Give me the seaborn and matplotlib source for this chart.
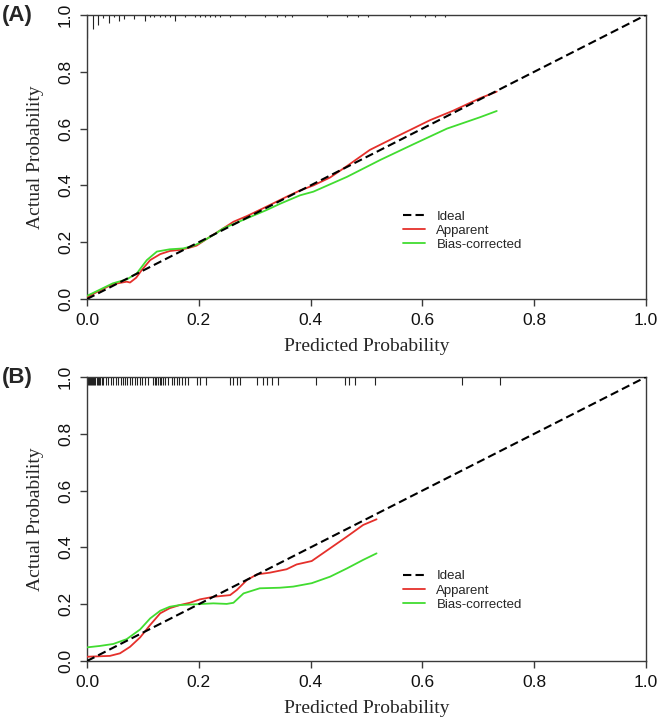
import numpy as np
import pandas as pd
import seaborn as sns
import matplotlib
matplotlib.use("Agg")
import matplotlib.pyplot as plt

# panel A: apparent / bias-corrected calibration curves
a_app_x = [0.0, 0.02, 0.046, 0.071, 0.077, 0.088, 0.098, 0.113, 0.131, 0.148, 0.166, 0.184, 0.196,
           0.22, 0.244, 0.262, 0.286, 0.321, 0.357, 0.381, 0.405, 0.435, 0.465, 0.506, 0.554,
           0.614, 0.655, 0.703, 0.733]
a_app_y = [0.006, 0.027, 0.052, 0.061, 0.058, 0.075, 0.102, 0.137, 0.158, 0.169, 0.173, 0.181, 0.188,
           0.219, 0.249, 0.272, 0.292, 0.325, 0.360, 0.382, 0.400, 0.428, 0.468, 0.525, 0.572,
           0.630, 0.663, 0.707, 0.730]
a_bc_x = [0.0, 0.02, 0.046, 0.071, 0.089, 0.107, 0.125, 0.148, 0.172, 0.190, 0.202, 0.226, 0.244,
          0.286, 0.321, 0.345, 0.381, 0.405, 0.465, 0.525, 0.584, 0.644, 0.703, 0.733]
a_bc_y = [0.011, 0.030, 0.055, 0.069, 0.090, 0.137, 0.167, 0.175, 0.178, 0.187, 0.198, 0.225, 0.249,
          0.284, 0.313, 0.335, 0.365, 0.378, 0.430, 0.490, 0.545, 0.600, 0.640, 0.662]
a_rug_x = [0.0005, 0.011, 0.020, 0.029, 0.040, 0.049, 0.058, 0.067, 0.084, 0.103, 0.113, 0.120,
           0.131, 0.140, 0.148, 0.158, 0.175, 0.193, 0.202, 0.211, 0.220, 0.229, 0.238, 0.256,
           0.283, 0.318, 0.340, 0.354, 0.367, 0.429, 0.465, 0.485, 0.503, 0.578, 0.605, 0.623, 0.640]
a_rug_len = [0.081, 0.049, 0.035, 0.011, 0.028, 0.007, 0.021, 0.014, 0.014, 0.021, 0.007, 0.007,
             0.007, 0.007, 0.007, 0.021, 0.007, 0.007, 0.007, 0.007, 0.007, 0.007, 0.007, 0.007,
             0.007, 0.007, 0.007, 0.007, 0.007, 0.007, 0.007, 0.007, 0.007, 0.007, 0.007, 0.007, 0.007]

# panel B
b_app_x = [0.0, 0.041, 0.059, 0.077, 0.095, 0.113, 0.131, 0.148, 0.166, 0.184, 0.202, 0.226, 0.256,
           0.268, 0.286, 0.304, 0.327, 0.357, 0.375, 0.402, 0.435, 0.465, 0.494, 0.518]
b_app_y = [0.015, 0.018, 0.027, 0.050, 0.083, 0.127, 0.168, 0.186, 0.197, 0.205, 0.217, 0.226, 0.232,
           0.250, 0.285, 0.305, 0.311, 0.323, 0.340, 0.352, 0.397, 0.438, 0.479, 0.499]
b_bc_x = [0.0, 0.023, 0.047, 0.071, 0.095, 0.113, 0.131, 0.148, 0.166, 0.196, 0.226, 0.250, 0.262,
          0.280, 0.309, 0.345, 0.369, 0.402, 0.435, 0.465, 0.494, 0.518]
b_bc_y = [0.048, 0.053, 0.060, 0.077, 0.111, 0.150, 0.177, 0.191, 0.197, 0.200, 0.203, 0.201, 0.205,
          0.238, 0.256, 0.258, 0.262, 0.274, 0.297, 0.326, 0.356, 0.379]
b_rug_x = [0.001, 0.003, 0.005, 0.007, 0.009, 0.011, 0.013, 0.015, 0.017, 0.019, 0.021, 0.023,
           0.027, 0.029, 0.034, 0.038, 0.043, 0.047, 0.052, 0.055, 0.061, 0.064, 0.068, 0.072,
           0.077, 0.080, 0.086, 0.089, 0.095, 0.098, 0.104, 0.109, 0.118, 0.121, 0.124, 0.127,
           0.130, 0.133, 0.136, 0.139, 0.145, 0.152, 0.156, 0.161, 0.165, 0.170, 0.175, 0.181,
           0.197, 0.202, 0.213, 0.256, 0.261, 0.268, 0.274, 0.304, 0.315, 0.322, 0.331, 0.342,
           0.410, 0.462, 0.469, 0.479, 0.515, 0.671, 0.739]
b_rug_len = 0.027

ticks = [0.0, 0.2, 0.4, 0.6, 0.8, 1.0]
tick_labels = ["0.0", "0.2", "0.4", "0.6", "0.8", "1.0"]
labels = ["Ideal", "Apparent", "Bias-corrected"]

RED = "#e5302b"
GREEN = "#41dc30"
AXC = "#3a3a3a"

sns.set_style("ticks")
plt.rcParams["font.family"] = ["Liberation Sans", "DejaVu Sans"]

fig = plt.figure(figsize=(6.61, 7.19), dpi=100)
ax_a = fig.add_axes([87 / 661, 1 - 299 / 719, 559 / 661, 284 / 719])
ax_b = fig.add_axes([87 / 661, 1 - 661 / 719, 559 / 661, 284 / 719])


def draw_panel(ax, app_x, app_y, bc_x, bc_y, rug_x, rug_len, leg_anchor):
    sns.lineplot(x=app_x, y=app_y, ax=ax, color=RED, lw=1.3, sort=False, estimator=None,
                 label=labels[1], zorder=3)
    sns.lineplot(x=bc_x, y=bc_y, ax=ax, color=GREEN, lw=1.3, sort=False, estimator=None,
                 label=labels[2], zorder=3)
    ideal = sns.lineplot(x=[0, 1], y=[0, 1], ax=ax, color="black", lw=1.5, label=labels[0], zorder=4)
    ideal.lines[-1].set_dashes((4, 2))
    # rug of predicted probabilities along the top
    ax.vlines(rug_x, 1 - np.asarray(rug_len), 1, color="#222222", lw=0.8, zorder=2)

    ax.set_xlim(0, 1)
    ax.set_ylim(0, 1)
    ax.set_xticks(ticks)
    ax.set_xticklabels(tick_labels)
    ax.set_yticks(ticks)
    ax.set_yticklabels(tick_labels, rotation=90, va="center")
    ax.tick_params(direction="out", length=5, width=1, color=AXC, labelsize=12.5,
                   labelcolor="#111111", pad=5)
    for sp in ax.spines.values():
        sp.set_color(AXC)
        sp.set_linewidth(1)
    ax.set_xlabel("Predicted Probability", family=["Liberation Serif"], fontsize=14, labelpad=7)
    ax.set_ylabel("Actual Probability", family=["Liberation Serif"], fontsize=14, labelpad=10)

    h, l = ax.get_legend_handles_labels()
    order = [l.index(t) for t in labels]
    ax.legend([h[i] for i in order], [l[i] for i in order], loc="upper left",
              bbox_to_anchor=leg_anchor, frameon=False, fontsize=9.5, handlelength=1.6,
              handletextpad=0.9, labelspacing=0.15, borderpad=0, borderaxespad=0)


draw_panel(ax_a, a_app_x, a_app_y, a_bc_x, a_bc_y, a_rug_x, a_rug_len, (0.566, 0.312))
draw_panel(ax_b, b_app_x, b_app_y, b_bc_x, b_bc_y, b_rug_x, b_rug_len, (0.566, 0.32))

fig.text(0.003, 1 - 16 / 719, "(A)", fontsize=16, fontweight="bold", va="center", ha="left")
fig.text(0.003, 1 - 378 / 719, "(B)", fontsize=16, fontweight="bold", va="center", ha="left")

fig.savefig("out.png", dpi=100)
